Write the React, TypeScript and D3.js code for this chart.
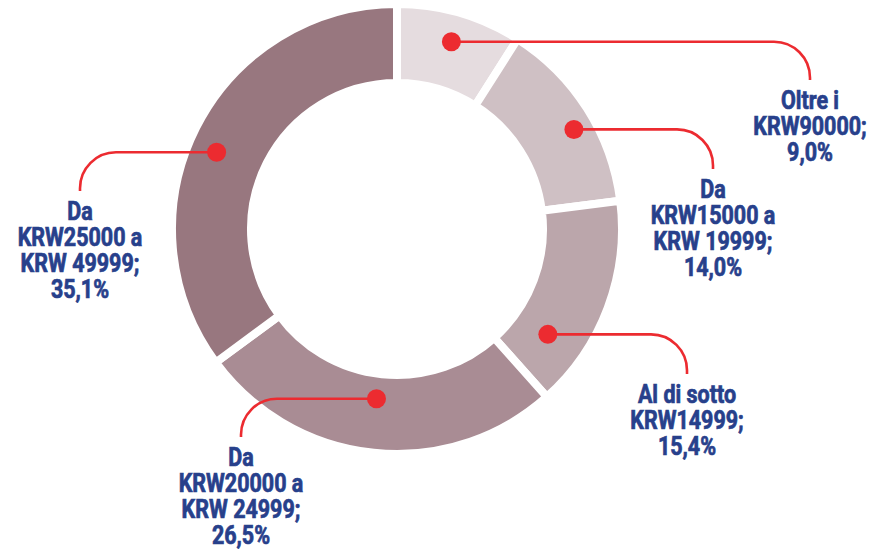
import React from 'react'
import * as d3 from 'd3'

// income bands, clockwise from 12 o'clock
const categories = [
  'Oltre i KRW90000',
  'Da KRW15000 a KRW 19999',
  'Al di sotto KRW14999',
  'Da KRW20000 a KRW 24999',
  'Da KRW25000 a KRW 49999',
]
const values = [9.0, 14.0, 15.4, 26.5, 35.1]
// how each label is broken into lines (percent line is added below)
const labelLines = [
  ['Oltre i', 'KRW90000;'],
  ['Da', 'KRW15000 a', 'KRW 19999;'],
  ['Al di sotto', 'KRW14999;'],
  ['Da', 'KRW20000 a', 'KRW 24999;'],
  ['Da', 'KRW25000 a', 'KRW 49999;'],
]
const colors = ['#e5dcdf', '#cfc0c4', '#bba6ab', '#a98c94', '#98777f']

// callout layout: where the dot sits in the slice (t along the arc, radius)
// and where the leader ends (label anchor)
const callouts = [
  { t: 0.5, r: 195, x: 810, y: 80, dir: 1 },
  { t: 0.56, r: 203, x: 713, y: 169, dir: 1 },
  { t: 0.76, r: 184, x: 687, y: 374, dir: 1 },
  { t: 0.51, r: 171, x: 241, y: 437, dir: -1 },
  { t: 0.47, r: 196, x: 80, y: 191, dir: -1 },
]

const W = 874
const H = 552
const cx = 397
const cy = 229
const outerR = 225
const innerR = 146
const gap = 8
const bend = 36
const lineH = 26
const red = '#ec2b30'
const blue = '#27408b'

const fmtPct = (v: number) => d3.format('.1f')(v).replace('.', ',') + '%'

export default function App() {
  const pie = d3.pie<number>().sort(null).value((d) => d)
  const arcs = pie(values)
  const arc = d3.arc<d3.PieArcDatum<number>>().innerRadius(innerR).outerRadius(outerR)

  return (
    <svg width={W} height={H} style={{ position: 'absolute', left: 0, top: 0 }}>
      <g transform={`translate(${cx},${cy})`}>
        {arcs.map((a, i) => (
          <path key={categories[i]} d={arc(a) || ''} fill={colors[i]}
            stroke="#fff" strokeWidth={gap} strokeLinejoin="miter" />
        ))}
      </g>
      {arcs.map((a, i) => {
        const c = callouts[i]
        const ang = a.startAngle + c.t * (a.endAngle - a.startAngle)
        const dx = cx + c.r * Math.sin(ang)
        const dy = cy - c.r * Math.cos(ang)
        const k = Math.min(bend, c.y - dy)
        const sweep = c.dir > 0 ? 1 : 0
        const path = `M${dx},${dy}H${c.x - c.dir * k}A${k},${k} 0 0 ${sweep} ${c.x},${dy + k}V${c.y}`
        const lines = [...labelLines[i], fmtPct(values[i])]
        return (
          <g key={categories[i]}>
            <path d={path} fill="none" stroke={red} strokeWidth={2.6} />
            <circle cx={dx} cy={dy} r={9.5} fill={red} />
            <text transform={`translate(${c.x},${c.y + 29}) scale(0.86,1)`}
              textAnchor="middle" fill={blue} stroke={blue} strokeWidth={0.7}
              fontFamily="Roboto, 'Noto Sans', sans-serif"
              fontWeight="bold" fontSize={25}>
              {lines.map((l, j) => (
                <tspan key={j} x={0} dy={j === 0 ? 0 : lineH}>{l}</tspan>
              ))}
            </text>
          </g>
        )
      })}
    </svg>
  )
}
